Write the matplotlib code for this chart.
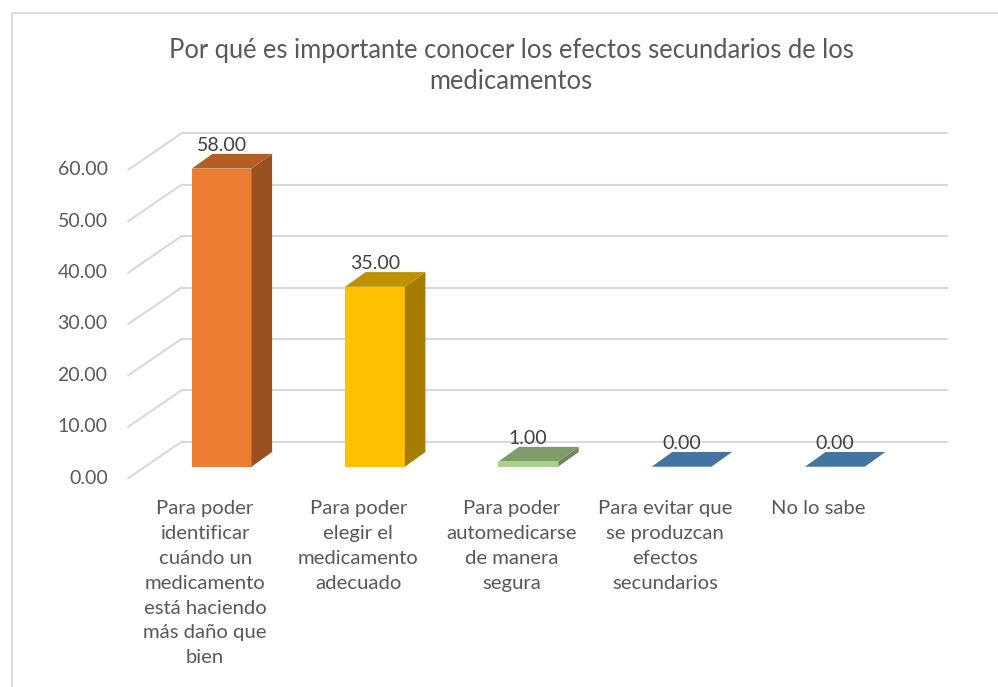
import numpy as np
import matplotlib
matplotlib.use("Agg")
import matplotlib.pyplot as plt
from matplotlib.patches import Polygon, Rectangle
from matplotlib.colors import to_rgb

# datos
categorias = [
    "Para poder\nidentificar\ncuándo un\nmedicamento\nestá haciendo\nmás daño que\nbien",
    "Para poder\nelegir el\nmedicamento\nadecuado",
    "Para poder\nautomedicarse\nde manera\nsegura",
    "Para evitar que\nse produzcan\nefectos\nsecundarios",
    "No lo sabe",
]
valores = [58.0, 35.0, 1.0, 0.0, 0.0]
colores = ["#ED7D31", "#FFC000", "#A9D18E", "#5B9BD5", "#5B9BD5"]
ticks_y = [0, 10, 20, 30, 40, 50, 60]
titulo = "Por qué es importante conocer los efectos secundarios de los\nmedicamentos"

plt.rcParams['font.family'] = ['Lato', 'DejaVu Sans']
gris_txt = "#595959"
gris_lin = "#D9D9D9"

fig = plt.figure(figsize=(9.98, 6.87), dpi=100)
ax = fig.add_axes([0, 0, 1, 1])
ax.set_xlim(-1.446, 5.064)
ax.set_ylim(-42.86, 90.8)
ax.axis("off")

# borde del area del grafico
fig.patches.append(Rectangle((12 / 998, -0.1), 1.2, 1.1 - 13 / 687, transform=fig.transFigure,
                             fill=False, edgecolor=gris_lin, linewidth=1.3))

# geometria 3d
ancho = 0.39
prof_x, prof_y = 0.134, 2.86      # profundidad de la barra
pared_x, pared_y = 0.238, 4.86    # pared del fondo
frente_x, frente_y = -0.108, -2.2  # borde delantero del piso
x_izq, x_der = -0.5, 4.5

for v in ticks_y:
    ax.plot([x_izq + pared_x, x_der + pared_x], [v + pared_y, v + pared_y],
            color=gris_lin, lw=1.5, zorder=1, solid_capstyle="butt")
    ax.plot([x_izq + frente_x, x_izq + pared_x], [v + frente_y, v + pared_y],
            color=gris_lin, lw=1.5, zorder=1)
    ax.annotate("%.2f" % v, (x_izq + frente_x, v + frente_y), xytext=(-15, 0),
                textcoords="offset points", ha="right", va="center",
                fontsize=14, color=gris_txt)


def sombra(c, f):
    r, g, b = to_rgb(c)
    return (r * f, g * f, b * f)


for i, (v, c) in enumerate(zip(valores, colores)):
    x0, x1 = i - ancho / 2, i + ancho / 2
    frente = [(x0, 0), (x1, 0), (x1, v), (x0, v)]
    lado = [(x1, 0), (x1 + prof_x, prof_y), (x1 + prof_x, v + prof_y), (x1, v)]
    tapa = [(x0, v), (x1, v), (x1 + prof_x, v + prof_y), (x0 + prof_x, v + prof_y)]
    if v > 0:
        ax.add_patch(Polygon(frente, closed=True, facecolor=c, edgecolor="none", zorder=3))
        ax.add_patch(Polygon(lado, closed=True, facecolor=sombra(c, 0.65), edgecolor="none", zorder=3))
    ax.add_patch(Polygon(tapa, closed=True, facecolor=sombra(c, 0.75), edgecolor="none", zorder=3))
    ax.annotate("%.2f" % v, (i, v + prof_y), xytext=(0, 0), textcoords="offset points",
                ha="center", va="bottom", fontsize=14, color="#404040", zorder=5)
    ax.annotate(categorias[i], (i + frente_x, 0 + frente_y), xytext=(0, -16),
                textcoords="offset points", ha="center", va="top",
                fontsize=14.6, color=gris_txt, linespacing=1.56)

fig.text(0.512, 1 - 66 / 687, titulo, ha="center", va="center", fontsize=18.4,
         color=gris_txt, linespacing=1.3)

fig.savefig("out.png", dpi=100, facecolor="white")
